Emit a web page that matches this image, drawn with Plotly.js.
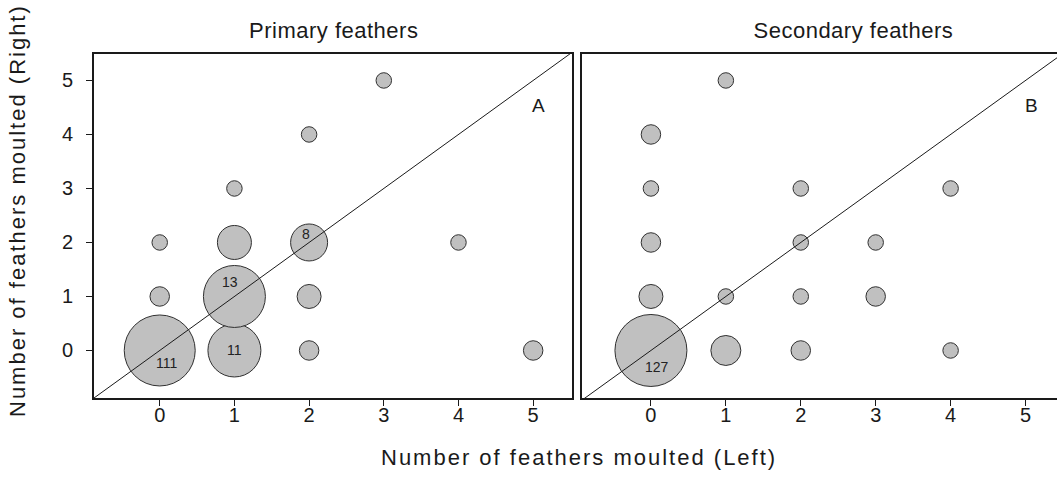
<!DOCTYPE html>
<html><head><meta charset="utf-8">
<script src="https://cdn.plot.ly/plotly-3.0.1.min.js"></script>
<style>html,body{margin:0;padding:0;background:#fff}</style>
</head><body><div id="chart" style="width:1057px;height:486px"></div>
<script>
// ---- data ----
const tickValues = [0, 1, 2, 3, 4, 5];
const tickLabels = ['0', '1', '2', '3', '4', '5'];
const panelTitles = ['Primary feathers', 'Secondary feathers'];
const panelLetters = ['A', 'B'];
const xAxisTitle = 'Number of feathers moulted (Left)';
const yAxisTitle = 'Number of feathers moulted (Right)';

// Primary feathers: moulted left, moulted right, number of birds
const primaryLeft  = [0, 0, 0, 1, 1, 1, 1, 2, 2, 2, 2, 3, 4, 5];
const primaryRight = [0, 1, 2, 0, 1, 2, 3, 0, 1, 2, 4, 5, 2, 0];
const primaryCount = [111, 2, 1, 11, 13, 5, 1, 2, 3, 8, 1, 1, 1, 2];

// Secondary feathers
const secondaryLeft  = [0, 0, 0, 0, 0, 1, 1, 1, 2, 2, 2, 2, 3, 3, 4, 4];
const secondaryRight = [0, 1, 2, 3, 4, 0, 1, 5, 0, 1, 2, 3, 1, 2, 0, 3];
const secondaryCount = [127, 3, 2, 1, 2, 4, 1, 1, 2, 1, 1, 1, 2, 1, 1, 1];

// ---- styling ----
const FONT = 'Liberation Sans, Arial, sans-serif';
const INK = '#1a1a1a';
const FILL = '#c0c0c0';
const LABEL_MIN = 8;               // counts drawn as text
// visual bubble-size scale of the original (count -> diameter px)
const sizeKnots = [[1,15.5],[2,19.5],[3,24],[4,30],[5,34],[8,37],[11,53],[13,62],[111,71],[127,72]];
function diameter(n){
  if (n <= sizeKnots[0][0]) return sizeKnots[0][1];
  for (let i = 1; i < sizeKnots.length; i++){
    const [a, da] = sizeKnots[i-1], [b, db] = sizeKnots[i];
    if (n <= b) return da + (db - da) * (n - a) / (b - a);
  }
  return sizeKnots[sizeKnots.length-1][1];
}
// label placement nudges (px) relative to the bubble centre, by count
const labelNudge = {111:[7,-13], 13:[-4,14], 11:[0,0], 8:[-3,8], 127:[6,-17]};

const W = 1057, H = 486;
const xRange1 = [-0.88, 5.52], xRange2 = [-0.92, 5.42], yRange = [-0.88, 5.49];
const yDom = [(H-398)/H, (H-54)/H];
const xDom1 = [94/W, 572/W], xDom2 = [582/W, 1];

function bubbles(xs, ys, ns, xa, ya){
  return {
    type: 'scatter', mode: 'markers', x: xs, y: ys, xaxis: xa, yaxis: ya,
    marker: {size: ns.map(diameter), sizemode: 'diameter', color: FILL,
             line: {color: '#303030', width: 1}, opacity: 1},
    hoverinfo: 'skip', showlegend: false, cliponaxis: false
  };
}
function diag(xr, xa, ya){
  const lo = Math.min(xr[0], yRange[0]) - 1, hi = Math.max(xr[1], yRange[1]) + 1;
  return {type:'scatter', mode:'lines', x:[lo, hi], y:[lo, hi], xaxis:xa, yaxis:ya,
          line:{color:INK, width:1}, hoverinfo:'skip', showlegend:false};
}

const traces = [
  bubbles(primaryLeft, primaryRight, primaryCount, 'x', 'y'),
  diag(xRange1, 'x', 'y'),
  bubbles(secondaryLeft, secondaryRight, secondaryCount, 'x2', 'y2'),
  diag(xRange2, 'x2', 'y2')
];

const annotations = [];
function countLabels(xs, ys, ns, xa, ya){
  ns.forEach((n, i) => {
    if (n < LABEL_MIN) return;
    const nud = labelNudge[n] || [0,0];
    annotations.push({x: xs[i], y: ys[i], xref: xa, yref: ya, text: String(n), showarrow: false,
      xshift: nud[0], yshift: nud[1], font: {family: FONT, size: 14, color: '#222'}});
  });
}
countLabels(primaryLeft, primaryRight, primaryCount, 'x', 'y');
countLabels(secondaryLeft, secondaryRight, secondaryCount, 'x2', 'y2');

const titleFont = {family: FONT, size: 22, color: INK};
annotations.push(
  {text: panelTitles[0], xref:'paper', yref:'paper', x: 333/W, y: (H-30)/H, showarrow:false, font: titleFont, xanchor:'center', yanchor:'middle'},
  {text: panelTitles[1], xref:'paper', yref:'paper', x: 853/W, y: (H-30)/H, showarrow:false, font: titleFont, xanchor:'center', yanchor:'middle'},
  {text: xAxisTitle, xref:'paper', yref:'paper', x: 579/W, y: (H-457)/H, showarrow:false, font: titleFont, xanchor:'center', yanchor:'middle'},
  {text: yAxisTitle, xref:'paper', yref:'paper', x: 18/W, y: (H-211)/H, showarrow:false, font: titleFont, textangle:-90, xanchor:'center', yanchor:'middle'},
  {text: panelLetters[0], xref:'x domain', yref:'y domain', x: 0.947, y: 0.887, showarrow:false, font:{family:FONT, size:19, color:INK}},
  {text: panelLetters[1], xref:'x2 domain', yref:'y2 domain', x: 0.964, y: 0.887, showarrow:false, font:{family:FONT, size:19, color:INK}}
);

const axisCommon = {
  tickvals: tickValues, ticktext: tickLabels, ticks: 'outside', ticklen: 6, tickwidth: 1, tickcolor: INK,
  showline: true, linecolor: INK, linewidth: 2, showgrid: false, zeroline: false,
  tickfont: {family: FONT, size: 20, color: INK}, fixedrange: true
};

const layout = {
  width: W, height: H, margin: {l:0, r:0, t:0, b:0},
  paper_bgcolor: '#fff', plot_bgcolor: '#fff', showlegend: false,
  xaxis:  Object.assign({}, axisCommon, {domain: xDom1, range: xRange1, anchor: 'y', mirror: true, ticklabelstandoff: -8}),
  yaxis:  Object.assign({}, axisCommon, {domain: yDom, range: yRange, anchor: 'x', mirror: true, ticklabelstandoff: 9}),
  xaxis2: Object.assign({}, axisCommon, {domain: xDom2, range: xRange2, anchor: 'y2', mirror: true, ticklabelstandoff: -8}),
  yaxis2: Object.assign({}, axisCommon, {domain: yDom, range: yRange, anchor: 'x2', mirror: false,
           showticklabels: false, ticks: ''}),
  annotations: annotations
};

Plotly.newPlot('chart', traces, layout, {displayModeBar: false, staticPlot: true}).then(gd => {
  const spacing = {};
  spacing[xAxisTitle] = '2px'; spacing[yAxisTitle] = '2px';
  spacing[panelTitles[0]] = '0.5px'; spacing[panelTitles[1]] = '0.5px';
  gd.querySelectorAll('g.annotation text').forEach(t => {
    if (spacing[t.textContent]) t.style.letterSpacing = spacing[t.textContent];
  });
});
</script>
</body></html>
